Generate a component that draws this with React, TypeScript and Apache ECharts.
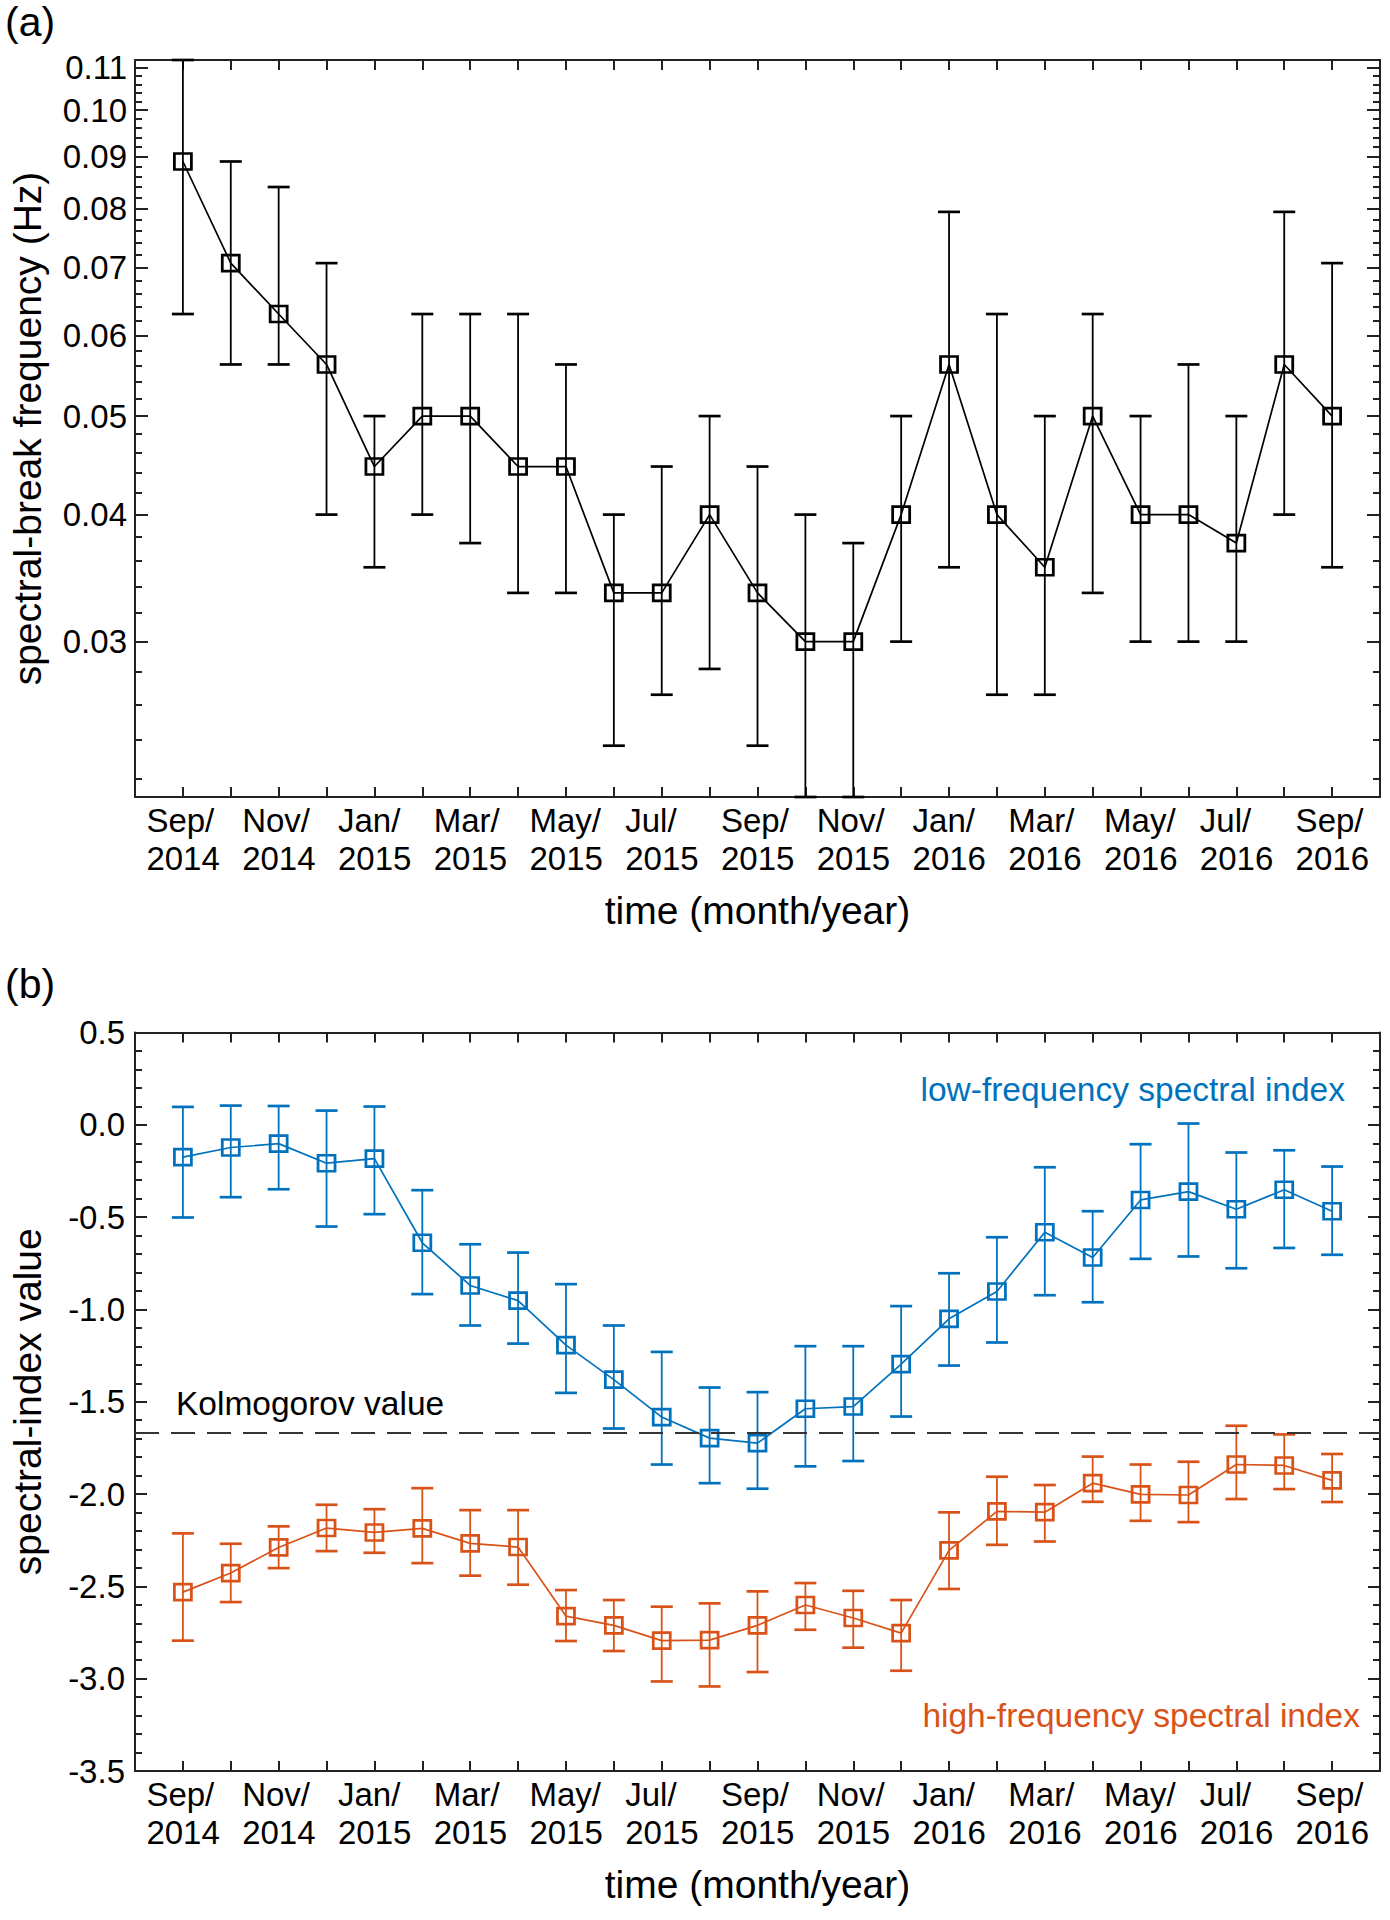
import React, { useEffect, useRef } from "react";
import * as echarts from "echarts";

// ---------------- data ----------------
const months = [
  "Sep 2014", "Oct 2014", "Nov 2014", "Dec 2014", "Jan 2015", "Feb 2015", "Mar 2015",
  "Apr 2015", "May 2015", "Jun 2015", "Jul 2015", "Aug 2015", "Sep 2015", "Oct 2015",
  "Nov 2015", "Dec 2015", "Jan 2016", "Feb 2016", "Mar 2016", "Apr 2016", "May 2016",
  "Jun 2016", "Jul 2016", "Aug 2016", "Sep 2016",
];
const xTickLabels = [
  "Sep/\n2014", "Nov/\n2014", "Jan/\n2015", "Mar/\n2015", "May/\n2015", "Jul/\n2015",
  "Sep/\n2015", "Nov/\n2015", "Jan/\n2016", "Mar/\n2016", "May/\n2016", "Jul/\n2016", "Sep/\n2016",
];

// panel (a): spectral-break frequency (Hz)
const breakFreq = [0.089, 0.0707, 0.063, 0.0562, 0.0446, 0.05, 0.05, 0.0446, 0.0446, 0.0335, 0.0335, 0.04, 0.0335, 0.03, 0.03, 0.04, 0.0562, 0.04, 0.0355, 0.05, 0.04, 0.04, 0.0375, 0.0562, 0.05];
const breakHigh = [0.112, 0.089, 0.084, 0.0707, 0.05, 0.063, 0.063, 0.063, 0.0562, 0.04, 0.0446, 0.05, 0.0446, 0.04, 0.0375, 0.05, 0.0794, 0.063, 0.05, 0.063, 0.05, 0.0562, 0.05, 0.0794, 0.0707];
const breakLow = [0.063, 0.0562, 0.0562, 0.04, 0.0355, 0.04, 0.0375, 0.0335, 0.0335, 0.0237, 0.0266, 0.0282, 0.0237, 0.0211, 0.0211, 0.03, 0.0355, 0.0266, 0.0266, 0.0335, 0.03, 0.03, 0.03, 0.04, 0.0355];
const yTicksA = [0.03, 0.04, 0.05, 0.06, 0.07, 0.08, 0.09, 0.1, 0.11];
const yRangeA = [0.0211, 0.112];

// panel (b): spectral-index values
const lowIdx = [-0.175, -0.123, -0.102, -0.208, -0.183, -0.639, -0.87, -0.952, -1.193, -1.38, -1.583, -1.697, -1.724, -1.538, -1.526, -1.296, -1.051, -0.903, -0.582, -0.719, -0.407, -0.362, -0.457, -0.352, -0.468];
const lowHi = [0.097, 0.104, 0.102, 0.077, 0.099, -0.354, -0.647, -0.692, -0.863, -1.087, -1.23, -1.423, -1.448, -1.199, -1.199, -0.982, -0.804, -0.609, -0.23, -0.468, -0.105, 0.007, -0.15, -0.138, -0.226];
const lowLo = [-0.502, -0.392, -0.349, -0.551, -0.484, -0.917, -1.087, -1.185, -1.452, -1.645, -1.84, -1.941, -1.971, -1.85, -1.821, -1.58, -1.304, -1.179, -0.923, -0.961, -0.726, -0.713, -0.777, -0.667, -0.704];
const highIdx = [-2.531, -2.428, -2.289, -2.184, -2.208, -2.186, -2.267, -2.287, -2.661, -2.711, -2.794, -2.791, -2.711, -2.601, -2.671, -2.753, -2.305, -2.094, -2.098, -1.941, -2.002, -2.005, -1.84, -1.845, -1.926];
const highHi = [-2.213, -2.269, -2.175, -2.058, -2.082, -1.968, -2.087, -2.087, -2.52, -2.574, -2.61, -2.592, -2.527, -2.482, -2.524, -2.574, -2.099, -1.906, -1.951, -1.797, -1.84, -1.825, -1.63, -1.677, -1.783];
const highLo = [-2.794, -2.585, -2.401, -2.309, -2.318, -2.374, -2.442, -2.491, -2.796, -2.85, -3.015, -3.042, -2.964, -2.735, -2.832, -2.957, -2.514, -2.275, -2.257, -2.042, -2.145, -2.152, -2.027, -1.973, -2.043];
const kolmogorov = -5 / 3;

// ---------------- style ----------------
const FF = '"Liberation Sans", Arial, Helvetica, sans-serif';
const AX = "#222";
const BLUE = "#0072BD";
const ORANGE = "#D95319";
const TICK_FS = 33;
const TITLE_FS = 39;
const NOTE_FS = 33.5;

const lg = (v: number) => Math.log10(v);

function minorLogTicks(): number[] {
  const out: number[] = [];
  for (let k = 22; k <= 110; k += 2) {
    if (k % 10 !== 0) out.push(k / 1000);
  }
  return out;
}

function errorBarSeries(name: string, xi: number, yi: number, lo: number[], hi: number[], color: string) {
  return {
    type: "custom",
    name,
    xAxisIndex: xi,
    yAxisIndex: yi,
    z: 2,
    encode: { x: 0, y: [1, 2] },
    data: lo.map((l, i) => [i, l, hi[i]]),
    renderItem: (params: any, api: any) => {
      const x = api.value(0);
      const pLo = api.coord([x, api.value(1)]);
      const pHi = api.coord([x, api.value(2)]);
      const hw = 11;
      return {
        type: "group",
        children: [
          { type: "line", shape: { x1: pLo[0], y1: pLo[1], x2: pHi[0], y2: pHi[1] }, style: { stroke: color, lineWidth: 1.8 } },
          { type: "line", shape: { x1: pLo[0] - hw, y1: pLo[1], x2: pLo[0] + hw, y2: pLo[1] }, style: { stroke: color, lineWidth: 2.7 } },
          { type: "line", shape: { x1: pHi[0] - hw, y1: pHi[1], x2: pHi[0] + hw, y2: pHi[1] }, style: { stroke: color, lineWidth: 2.7 } },
        ],
      };
    },
  };
}

function lineSeries(name: string, xi: number, yi: number, data: number[][], color: string) {
  return {
    type: "line",
    name,
    xAxisIndex: xi,
    yAxisIndex: yi,
    z: 3,
    data,
    symbol: "rect",
    symbolSize: [17, 16],
    lineStyle: { color, width: 1.7 },
    itemStyle: { color: "rgba(0,0,0,0)", borderColor: color, borderWidth: 2.7 },
  };
}

const axisLineStyle = { color: AX, width: 2 };

function xAxes(gridIndex: number) {
  const base = {
    type: "value",
    gridIndex,
    min: -1,
    max: 25,
    interval: 1,
    splitLine: { show: false },
    axisLine: { show: true, onZero: false, lineStyle: axisLineStyle },
    axisTick: { show: true, inside: true, length: 10, lineStyle: axisLineStyle },
  };
  return [
    {
      ...base,
      position: "bottom",
      name: "time (month/year)",
      nameLocation: "middle",
      nameGap: 94,
      nameTextStyle: { fontSize: TITLE_FS, fontFamily: FF, color: "#000" },
      axisLabel: {
        show: true,
        margin: 4,
        formatter: (v: number) => {
          const i = Math.round(v);
          if (i < 0 || i > 24 || i % 2 !== 0) return "";
          const parts = xTickLabels[i / 2].split("\n");
          return `{l|${parts[0]}}\n{l|${parts[1]}}`;
        },
        rich: {
          l: { fontSize: TICK_FS, lineHeight: 38, width: 73, align: "left", fontFamily: FF, color: "#000" },
        },
      },
    },
    { ...base, position: "top", axisLabel: { show: false } },
  ];
}

export default function App() {
  const ref = useRef<HTMLDivElement>(null);

  useEffect(() => {
    if (!ref.current) return;
    const chart = echarts.init(ref.current, undefined, { renderer: "svg" });

    const aMin = lg(yRangeA[0]);
    const aMax = lg(yRangeA[1]);
    const aMajor = yTicksA.map(lg);
    const aMinor = minorLogTicks().map(lg);

    const aBase = {
      type: "value",
      gridIndex: 0,
      min: aMin,
      max: aMax,
      splitLine: { show: false },
    };
    const bBase = {
      type: "value",
      gridIndex: 1,
      min: -3.5,
      max: 0.5,
      interval: 0.5,
      splitLine: { show: false },
      axisLine: { show: true, onZero: false, lineStyle: axisLineStyle },
      axisTick: { show: true, inside: true, length: 12, lineStyle: axisLineStyle },
      minorTick: { show: true, splitNumber: 5, length: 7, lineStyle: axisLineStyle },
    };

    const option: any = {
      animation: false,
      backgroundColor: "#fff",
      grid: [
        { left: 135, right: 10, top: 60, height: 737, containLabel: false },
        { left: 135, right: 10, top: 1032.5, height: 738.5, containLabel: false },
      ],
      xAxis: [...xAxes(0), ...xAxes(1)],
      yAxis: [
        {
          ...aBase,
          position: "left",
          axisLine: { show: true, onZero: false, lineStyle: axisLineStyle },
          axisTick: { show: true, inside: true, length: 13, customValues: aMajor, lineStyle: axisLineStyle },
          axisLabel: {
            show: true,
            customValues: aMajor,
            margin: 8,
            fontSize: TICK_FS,
            fontFamily: FF,
            color: "#000",
            formatter: (v: number) => Math.pow(10, v).toFixed(2),
          },
          name: "spectral-break frequency (Hz)",
          nameLocation: "middle",
          nameGap: 88,
          nameTextStyle: { fontSize: TITLE_FS, fontFamily: FF, color: "#000" },
        },
        {
          ...aBase,
          position: "left",
          axisLine: { show: false, onZero: false },
          axisTick: { show: true, inside: true, length: 7, customValues: aMinor, lineStyle: axisLineStyle },
          axisLabel: { show: false },
        },
        {
          ...aBase,
          position: "right",
          axisLine: { show: true, onZero: false, lineStyle: axisLineStyle },
          axisTick: { show: true, inside: true, length: 13, customValues: aMajor, lineStyle: axisLineStyle },
          axisLabel: { show: false },
        },
        {
          ...aBase,
          position: "right",
          axisLine: { show: false, onZero: false },
          axisTick: { show: true, inside: true, length: 7, customValues: aMinor, lineStyle: axisLineStyle },
          axisLabel: { show: false },
        },
        {
          ...bBase,
          position: "left",
          axisLabel: {
            show: true,
            margin: 10,
            fontSize: TICK_FS,
            fontFamily: FF,
            color: "#000",
            formatter: (v: number) => v.toFixed(1),
          },
          name: "spectral-index value",
          nameLocation: "middle",
          nameGap: 88,
          nameTextStyle: { fontSize: TITLE_FS, fontFamily: FF, color: "#000" },
        },
        { ...bBase, position: "right", axisLabel: { show: false } },
      ],
      series: [
        errorBarSeries("break-err", 0, 0, breakLow.map(lg), breakHigh.map(lg), "#000"),
        lineSeries("break", 0, 0, breakFreq.map((v, i) => [i, lg(v)]), "#000"),
        errorBarSeries("low-err", 2, 4, lowLo, lowHi, BLUE),
        lineSeries("low", 2, 4, lowIdx.map((v, i) => [i, v]), BLUE),
        errorBarSeries("high-err", 2, 4, highLo, highHi, ORANGE),
        lineSeries("high", 2, 4, highIdx.map((v, i) => [i, v]), ORANGE),
        {
          type: "line",
          name: "kolmogorov",
          xAxisIndex: 2,
          yAxisIndex: 4,
          data: [],
          markLine: {
            silent: true,
            symbol: "none",
            label: { show: false },
            lineStyle: { color: "#333", width: 2, type: [24, 12] },
            data: [{ yAxis: kolmogorov }],
          },
        },
      ],
      graphic: [
        { type: "text", left: 5, top: 1, style: { text: "(a)", fontSize: 41, fontFamily: FF, fill: "#000" } },
        { type: "text", left: 5, top: 963, style: { text: "(b)", fontSize: 41, fontFamily: FF, fill: "#000" } },
        {
          type: "text",
          x: 176,
          y: 1403,
          style: { text: "Kolmogorov value", fontSize: NOTE_FS, fontFamily: FF, fill: "#000", verticalAlign: "middle" },
        },
        {
          type: "text",
          x: 1345,
          y: 1089,
          style: { text: "low-frequency spectral index", fontSize: NOTE_FS, fontFamily: FF, fill: BLUE, align: "right", verticalAlign: "middle" },
        },
        {
          type: "text",
          x: 1360,
          y: 1715,
          style: { text: "high-frequency spectral index", fontSize: NOTE_FS, fontFamily: FF, fill: ORANGE, align: "right", verticalAlign: "middle" },
        },
      ],
    };

    chart.setOption(option);
    return () => chart.dispose();
  }, []);

  return (
    <div
      ref={ref}
      data-months={months.length}
      style={{ position: "absolute", left: 0, top: 0, width: 1390, height: 1920, background: "#fff" }}
    />
  );
}
